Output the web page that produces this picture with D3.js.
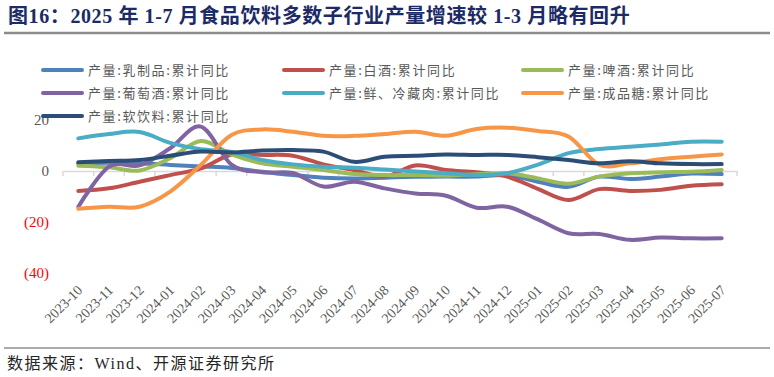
<!DOCTYPE html>
<html>
<head>
<meta charset="utf-8">
<script src="https://cdn.jsdelivr.net/npm/d3@7"></script>
<style>
    body { margin: 0; background: #fff; }
    #chart-area { width: 774px; height: 377px; }
    .serif { font-family: "Liberation Serif", "Noto Sans CJK SC", serif; }
    .cjk { font-family: "Noto Sans CJK SC", sans-serif; }
</style>
</head>
<body>
<div id="chart-area"></div>
<script>
// months on the x axis
let months = ["2023-10", "2023-11", "2023-12", "2024-01", "2024-02", "2024-03", "2024-04", "2024-05",
    "2024-06", "2024-07", "2024-08", "2024-09", "2024-10", "2024-11", "2024-12", "2025-01",
    "2025-02", "2025-03", "2025-04", "2025-05", "2025-06", "2025-07"]

let seriesNames = ["产量:乳制品:累计同比", "产量:白酒:累计同比", "产量:啤酒:累计同比",
    "产量:葡萄酒:累计同比", "产量:鲜、冷藏肉:累计同比", "产量:成品糖:累计同比", "产量:软饮料:累计同比"]

// values (%)
let dairy = [3.0, 3.2, 3.0, 2.4, 1.8, 1.2, -0.3, -1.6, -2.6, -2.9, -2.6, -2.3, -2.2, -2.2, -1.6, -4.2, -6.2, -2.2, -3.1, -2.2, -1.0, -1.2]
let baijiu = [-7.8, -6.8, -4.2, -1.6, 1.0, 6.5, 6.3, 6.0, 2.6, 0.4, -2.2, 2.2, 0.4, -0.5, -2.2, -7.0, -11.4, -7.1, -7.8, -7.4, -5.8, -5.2]
let beer = [2.1, 1.5, 0.2, 5.0, 11.8, 6.5, 3.0, 1.7, 0.4, -1.2, -1.6, -1.6, -1.8, -1.3, -0.9, -2.9, -5.0, -2.2, -0.9, -0.5, -0.3, 0.4]
let wine = [-14.0, 1.7, 2.2, 8.9, 17.4, 2.5, -0.5, -0.8, -6.1, -4.2, -6.8, -8.8, -9.7, -14.4, -14.0, -19.0, -24.4, -24.7, -27.0, -26.1, -26.4, -26.4]
let meat = [12.8, 14.5, 15.3, 11.0, 8.5, 7.5, 4.3, 2.6, 1.7, 1.3, 0.6, -0.2, -0.9, -1.6, -0.9, 2.5, 7.0, 8.6, 9.5, 10.4, 11.5, 11.5]
let sugar = [-14.8, -14.0, -14.0, -8.1, 2.4, 14.1, 16.3, 15.4, 13.8, 13.8, 14.5, 15.4, 13.8, 16.5, 17.0, 15.7, 13.5, 2.5, 3.0, 4.6, 5.6, 6.5]
let softDrink = [3.4, 3.9, 4.3, 6.0, 7.6, 7.3, 8.0, 8.2, 7.6, 3.6, 5.6, 6.0, 6.5, 6.3, 6.3, 5.4, 4.3, 3.0, 3.8, 3.0, 2.7, 2.7]

let yTicks = [20, 0, -20, -40]

let colors = ["#4F81BD", "#C0504D", "#9BBB59", "#8064A2", "#4BACC6", "#F79646", "#2C4D75"]

class LineChart {
    constructor(parentElement, seriesData) {
        this.parentElement = parentElement
        this.data = seriesData

        this.initVis()
    }

    initVis() {
        let vis = this

        vis.svg = d3.select("#" + vis.parentElement).append("svg")
            .attr("width", 774)
            .attr("height", 377)

        // title + rule
        vis.svg.append("text")
            .attr("class", "serif")
            .attr("x", 8)
            .attr("y", 23)
            .attr("font-size", 20)
            .attr("font-weight", "bold")
            .attr("letter-spacing", 0.6)
            .attr("fill", "#1C2A66")
            .text("图16：2025 年 1-7 月食品饮料多数子行业产量增速较 1-3 月略有回升")

        vis.svg.append("line")
            .attr("x1", 4).attr("x2", 770)
            .attr("y1", 33).attr("y2", 33)
            .attr("stroke", "#8C8C8C")
            .attr("stroke-width", 2.5)

        // scales
        vis.x = d3.scaleBand().domain(months).range([63, 737])
        vis.y = d3.scaleLinear().domain([-40, 20]).range([273, 120])

        // y labels
        vis.svg.append("g")
            .selectAll("text")
            .data(yTicks)
            .join("text")
            .attr("class", "serif")
            .attr("x", 49)
            .attr("y", d => vis.y(d) + 5)
            .attr("text-anchor", "end")
            .attr("font-size", 15)
            .attr("fill", d => d < 0 ? "#FF0000" : "#595959")
            .text(d => d < 0 ? "(" + Math.abs(d) + ")" : d)

        // zero axis with ticks between categories
        let xAxis = d3.axisBottom(vis.x).tickSize(0).tickFormat("")
        let axisG = vis.svg.append("g")
            .attr("transform", `translate(0, ${vis.y(0)})`)
            .call(xAxis)
        axisG.select(".domain").attr("stroke", "#D9D9D9").attr("stroke-width", 1.5)

        let bounds = months.map(m => vis.x(m)).concat([vis.x.range()[1]])
        axisG.selectAll(".bound")
            .data(bounds)
            .join("line")
            .attr("x1", d => d).attr("x2", d => d)
            .attr("y1", 0).attr("y2", 5)
            .attr("stroke", "#D9D9D9")
            .attr("stroke-width", 1.5)

        // month labels, low position, rotated
        vis.svg.append("g")
            .selectAll("text")
            .data(months)
            .join("text")
            .attr("class", "serif")
            .attr("text-anchor", "end")
            .attr("font-size", 14)
            .attr("fill", "#595959")
            .attr("transform", d => `translate(${vis.x(d) + vis.x.bandwidth() / 2 + 5}, 291) rotate(-45)`)
            .text(d => d)

        vis.line = d3.line()
            .x((d, i) => vis.x(months[i]) + vis.x.bandwidth() / 2)
            .y(d => vis.y(d))
            .curve(d3.curveCatmullRom.alpha(0))

        vis.svg.append("g")
            .selectAll("path")
            .data(vis.data)
            .join("path")
            .attr("fill", "none")
            .attr("stroke", (d, i) => colors[i])
            .attr("stroke-width", 4)
            .attr("stroke-linecap", "round")
            .attr("stroke-linejoin", "round")
            .attr("d", d => vis.line(d))

        // legend: 3 columns
        let colX = [42, 283, 522]
        let rowY = [70, 93, 116]
        let legend = vis.svg.append("g")
            .selectAll("g")
            .data(seriesNames)
            .join("g")
            .attr("transform", (d, i) => `translate(${colX[i % 3]}, ${rowY[Math.floor(i / 3)]})`)

        legend.append("line")
            .attr("x1", 1).attr("x2", 40)
            .attr("stroke", (d, i) => colors[i])
            .attr("stroke-width", 4)
            .attr("stroke-linecap", "round")

        legend.append("text")
            .attr("class", "cjk")
            .attr("x", 46)
            .attr("y", 5)
            .attr("font-size", 13)
            .attr("letter-spacing", 1.6)
            .attr("fill", "#595959")
            .text(d => d)

        // source
        vis.svg.append("line")
            .attr("x1", 4).attr("x2", 770)
            .attr("y1", 348).attr("y2", 348)
            .attr("stroke", "#595959")
            .attr("stroke-width", 1.2)

        vis.svg.append("text")
            .attr("class", "serif")
            .attr("x", 7)
            .attr("y", 369)
            .attr("font-size", 16)
            .attr("letter-spacing", 1.5)
            .attr("fill", "#262626")
            .text("数据来源：Wind、开源证券研究所")
    }
}

new LineChart("chart-area", [dairy, baijiu, beer, wine, meat, sugar, softDrink])
</script>
</body>
</html>
